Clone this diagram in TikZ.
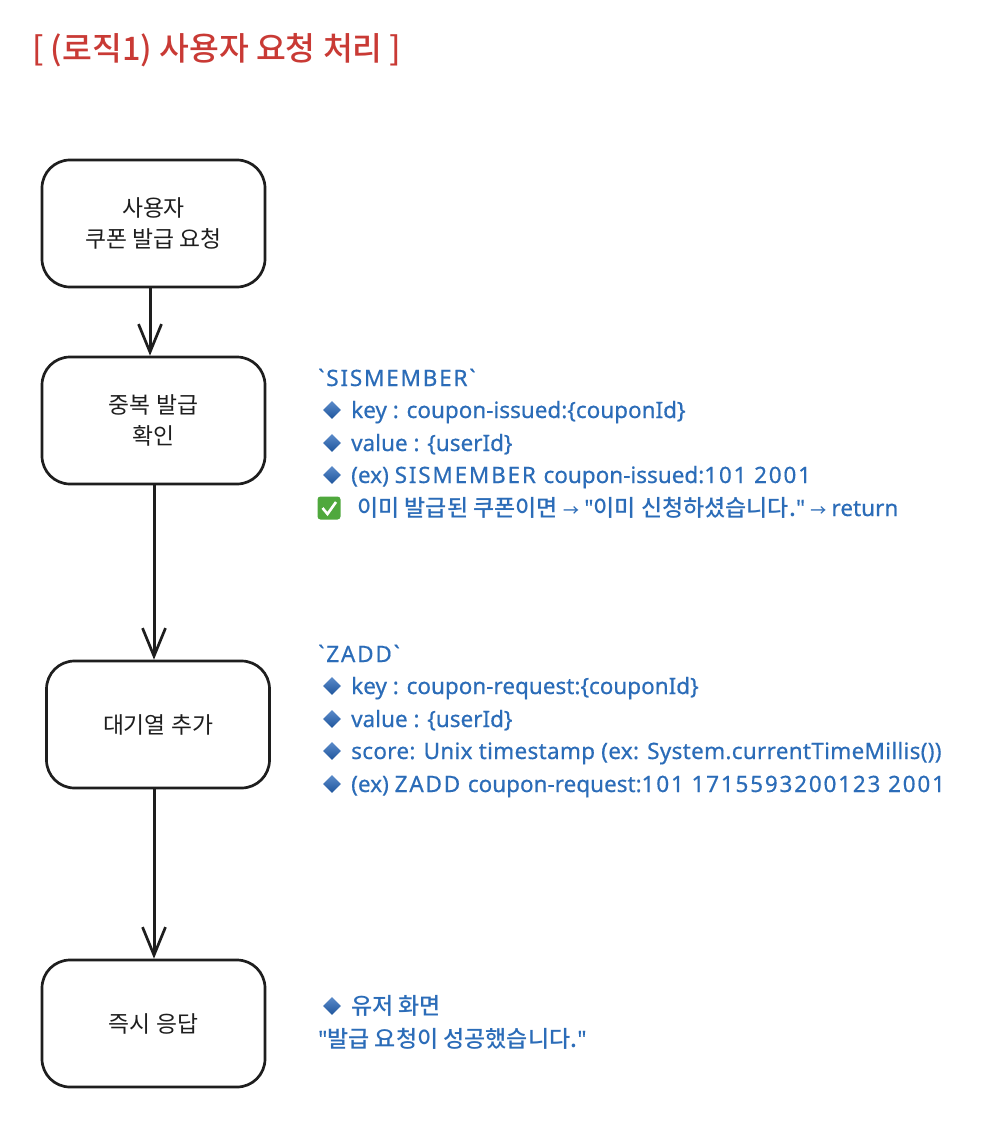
\documentclass[tikz,border=0pt]{standalone}
\usepackage{fontspec}
\setmainfont{Noto Sans CJK KR}
\newfontfamily\hangulfont{Noto Sans CJK KR Medium}
\newfontfamily\boxfont{Noto Sans CJK KR}
\newfontfamily\titlefont{Noto Sans CJK KR Medium}
\newfontfamily\latinfont[FakeBold=0.5]{Noto Sans}
\newfontfamily\widefont[FakeBold=0.5,LetterSpace=8]{Noto Sans}
\newfontfamily\looserfont[FakeBold=0.5,LetterSpace=1.3]{Noto Sans}
\usetikzlibrary{arrows.meta,shapes.geometric}
\definecolor{mred}{HTML}{C93A35}
\definecolor{mblue}{HTML}{2B6CB8}
\definecolor{mink}{HTML}{1E1E1E}
\definecolor{mdia}{HTML}{2464B8}
\definecolor{mgreen}{HTML}{4FA83D}
\newcommand{\lat}[1]{{\latinfont\fontsize{22.5}{26}\selectfont #1}}
\newcommand{\wide}[1]{{\widefont\fontsize{22.5}{26}\selectfont #1}}
\newcommand{\looser}[1]{{\looserfont\fontsize{22.5}{26}\selectfont #1}}
\newcommand{\smallarrow}{{\fontsize{16}{26}\selectfont →}}
\tikzset{
  flowbox/.style={draw=mink,line width=2.7pt,rounded corners=28pt,minimum width=223pt,minimum height=127pt,align=center,font=\boxfont\fontsize{22.8}{31}\selectfont,text=mink,inner sep=0pt},
  note/.style={anchor=base west,inner sep=0pt,text=mblue,font=\hangulfont\fontsize{23}{26}\selectfont},
  dia/.style={diamond,top color=mdia!75!white,bottom color=mdia!85!black,minimum width=18pt,minimum height=18pt,inner sep=0pt},
  arr/.style={-{Straight Barb[length=28pt,width=23pt,line width=2.7pt]},line width=3pt,mink},
}
\begin{document}
\begin{tikzpicture}[x=1pt,y=-1pt]
    \useasboundingbox (0,0) rectangle (988,1126);
    \fill[white] (0,0) rectangle (988,1126);
    % title
    \node[anchor=base west,inner sep=0pt,text=mred,font=\titlefont\fontsize{32.4}{36}\selectfont] (title) at (32,61) {[ (로직1) 사용자 요청 처리 ]};
    % flow boxes
    \node[flowbox] (request) at (153.5,223.5) {사용자\\쿠폰 발급 요청};
    \node[flowbox] (check) at (153.5,420.5) {중복 발급\\확인};
    \node[flowbox] (queue) at (158,724.5) {대기열 추가};
    \node[flowbox] (reply) at (153.5,1023.5) {즉시 응답};
    % arrows
    \draw[arr] ([xshift=-3.5pt]request.south) -- ([xshift=-3.5pt]check.north);
    \draw[arr] ([xshift=0.5pt]check.south) -- ([xshift=-4pt]queue.north);
    \draw[arr] ([xshift=-4pt]queue.south) -- ([xshift=0.5pt]reply.north);
    % SISMEMBER notes
    \node[note] (sis) at (318,386) {\wide{`SISMEMBER`}};
    \foreach \name/\y/\txt in {sisa/418/{\lat{key : coupon-issued:\{couponId\}}},
                               sisb/451/{\lat{value : \{userId\}}},
                               sisc/483/{\lat{(ex) }\wide{SISMEMBER }\lat{coupon-issued:}\wide{101 2001}}} {
      \node[dia] (\name d) at (332,\y-8) {};
      \node[note] (\name) at (351,\y) {\txt};
    }
    \node[fill=mgreen,rounded corners=3pt,minimum size=23pt,inner sep=0pt] (tick) at (329,508) {};
    \draw[white,line width=2.6pt] (322.5,508) -- (327.5,514) -- (336,502);
    \node[note] (sisd) at (357,516) {이미 발급된 쿠폰이면 \smallarrow{} \lat{"}이미 신청하셨습니다.\lat{"} \smallarrow{} \lat{return}};
    % ZADD notes
    \node[note] (zadd) at (318,662) {\wide{`ZADD`}};
    \foreach \name/\y/\txt in {zada/694/{\lat{key : coupon-request:\{couponId\}}},
                               zadb/727/{\lat{value : \{userId\}}},
                               zadc/759/{\looser{score: Unix timestamp (ex: System.currentTimeMillis())}},
                               zade/792/{\lat{(ex) }\wide{ZADD }\lat{coupon-request:}\wide{101 1715593200123 2001}}} {
      \node[dia] (\name d) at (332,\y-8) {};
      \node[note] (\name) at (351,\y) {\txt};
    }
    % reply notes
    \node[dia] (scrd) at (332,1006) {};
    \node[note] (scr) at (351,1014) {유저 화면};
    \node[note] (msg) at (318,1047) {\lat{"}발급 요청이 성공했습니다.\lat{"}};
\end{tikzpicture}
\end{document}
